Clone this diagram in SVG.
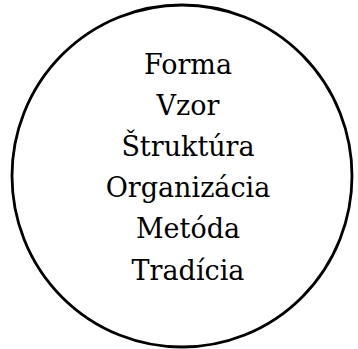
<svg xmlns="http://www.w3.org/2000/svg" width="358" height="349" viewBox="0 0 358 349">
<style>
.t{font-family:"DejaVu Serif","Liberation Serif",serif;font-size:27px;fill:#000;text-anchor:middle}
</style>
<rect width="358" height="349" fill="#fff"/>
<g id="circle">
<ellipse cx="182" cy="176" rx="170" ry="171" fill="none" stroke="#000" stroke-width="2.8"/>
</g>
<g id="labels">
<text class="t" x="188" y="74">Forma</text>
<text class="t" x="188" y="115">Vzor</text>
<text class="t" x="188" y="156">Štruktúra</text>
<text class="t" x="188" y="197">Organizácia</text>
<text class="t" x="188" y="238">Metóda</text>
<text class="t" x="188" y="280">Tradícia</text>
</g>
</svg>
